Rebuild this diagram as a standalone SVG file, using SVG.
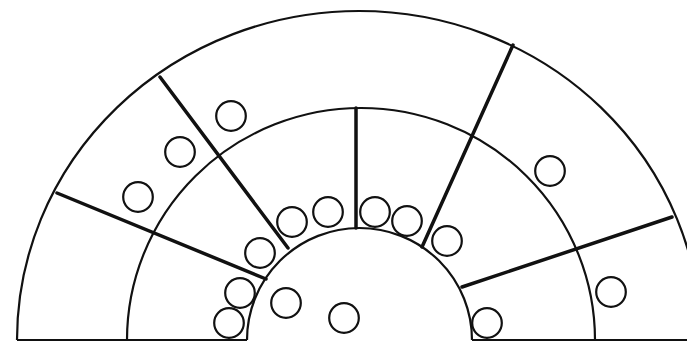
<svg xmlns="http://www.w3.org/2000/svg" width="687" height="344" viewBox="0 0 687 344">
<style>
.arc{fill:none;stroke:#111;stroke-width:2.2}
.rad{fill:none;stroke:#111;stroke-width:3.5;stroke-linecap:round}
.ball{fill:none;stroke:#111;stroke-width:2.2}
</style>
<rect width="687" height="344" fill="#fff"/>
<g id="arcs">
<path class="arc" d="M17,340 A342,329 0 0 1 701,340"/>
<path class="arc" d="M127,340 A234,232 0 0 1 595,340"/>
<path class="arc" d="M247,340 A112.5,112 0 0 1 472,340"/>
<path class="arc" d="M17,340 H247 M472,340 H687"/>
</g>
<g id="radials">
<line class="rad" x1="57" y1="193" x2="266" y2="279"/>
<line class="rad" x1="160" y1="77" x2="288" y2="248"/>
<line class="rad" x1="356" y1="108" x2="356" y2="228"/>
<line class="rad" x1="513" y1="45" x2="422" y2="247"/>
<line class="rad" x1="672" y1="217" x2="462" y2="287"/>
</g>
<g id="balls">
<circle class="ball" cx="231" cy="116" r="14.8"/>
<circle class="ball" cx="180" cy="152" r="14.8"/>
<circle class="ball" cx="138" cy="197" r="14.8"/>
<circle class="ball" cx="292" cy="222" r="14.8"/>
<circle class="ball" cx="328" cy="212" r="14.8"/>
<circle class="ball" cx="375" cy="212" r="14.8"/>
<circle class="ball" cx="407" cy="221" r="14.8"/>
<circle class="ball" cx="447" cy="241" r="14.8"/>
<circle class="ball" cx="550" cy="171" r="14.8"/>
<circle class="ball" cx="260" cy="253" r="14.8"/>
<circle class="ball" cx="240" cy="293" r="14.8"/>
<circle class="ball" cx="286" cy="303" r="14.8"/>
<circle class="ball" cx="229" cy="323" r="14.8"/>
<circle class="ball" cx="344" cy="318" r="14.8"/>
<circle class="ball" cx="487" cy="323" r="14.8"/>
<circle class="ball" cx="611" cy="292" r="14.8"/>
</g>
</svg>
